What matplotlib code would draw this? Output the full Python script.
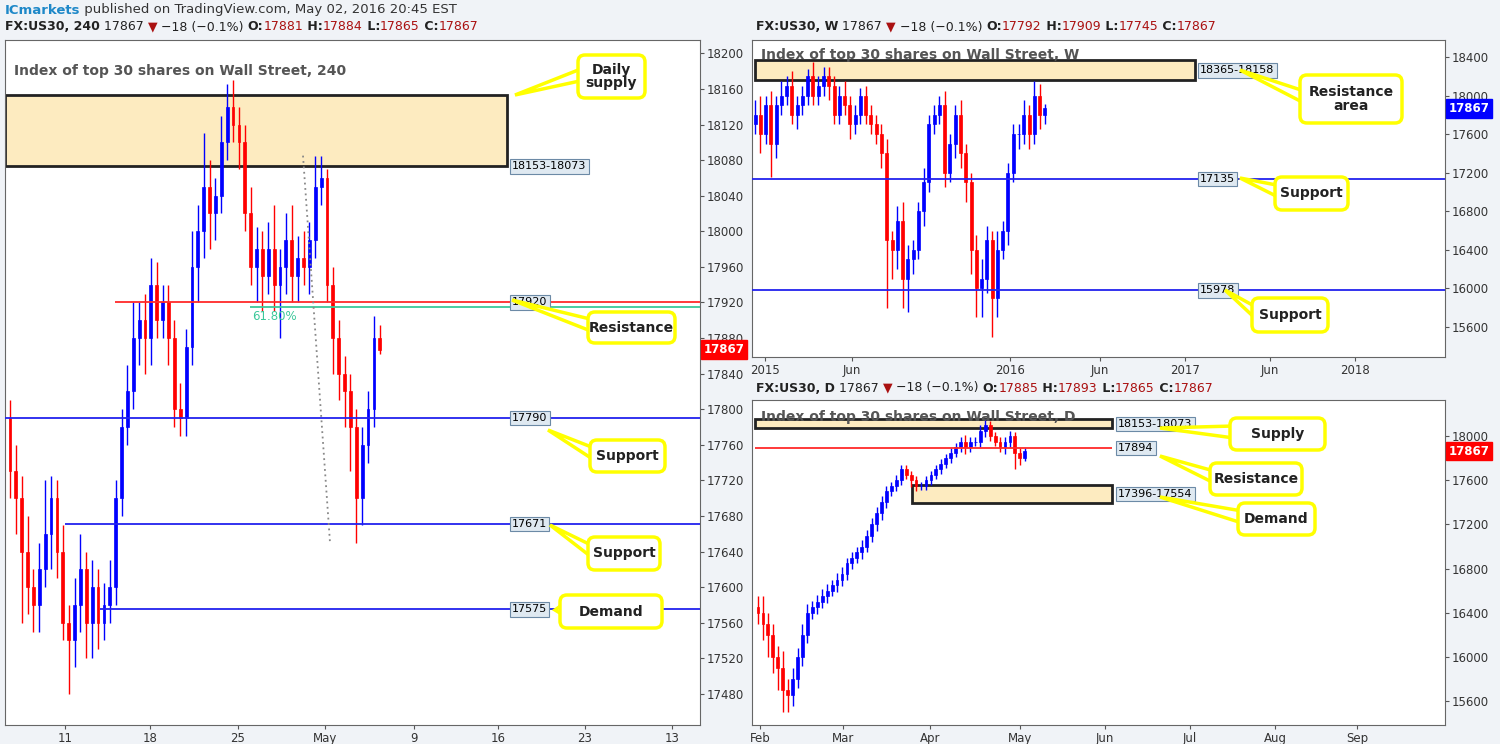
import matplotlib
matplotlib.use("Agg")
import matplotlib.pyplot as plt
from matplotlib.patches import FancyBboxPatch, Polygon, Rectangle

# ---------------- data ----------------
h4_close = [17730,17700,17640,17600,17580,17620,17660,17700,17640,17560,17540,17580,17620,17560,17600,17560,
            17580,17600,17700,17780,17820,17880,17900,17880,17940,17900,17920,17880,17800,17790,17870,17960,
            18000,18050,18020,18040,18100,18140,18120,18100,18020,17960,17980,17950,17980,17940,17960,17990,
            17950,17970,17960,17990,18050,18060,17940,17880,17840,17820,17780,17700,17760,17800,17880,17867]
h4_first_open = 17790
h4_wick_up = [20,30,25,40,20,30,60,25,20,30,20,30,40,20,30,20,25,30,20,20,30,40,20,30,30,25,20,20,20,30,
              20,40,30,60,30,20,30,25,30,20,20,30,25,20,30,50,20,30,40,25,30,20,35,25,10,20,20,20,20,20,
              20,20,25,15]
h4_wick_dn = [30,40,80,30,30,30,20,40,30,20,60,30,30,40,40,30,20,20,20,20,20,20,30,40,30,20,20,30,20,20,
              20,20,40,30,40,30,20,20,20,30,20,20,40,40,20,30,60,30,30,30,20,30,20,20,20,40,30,40,50,50,
              30,20,20,5]

w_close = [17800,17600,17900,17500,17900,18000,18100,17800,17900,18000,18200,18000,18100,18200,18100,17800,
           18000,17900,17700,17800,18000,17800,17700,17600,17400,16500,16400,16700,16100,16300,16400,16800,
           17100,17700,17800,17900,17200,17500,17800,17400,17100,16400,16000,16100,16500,15900,16400,16600,
           17200,17600,17600,17800,17600,18000,17800,17867]
w_first_open = 17700
w_wick_up = [150,200,100,150,100,150,100,150,100,100,80,150,100,100,100,100,100,150,100,100,80,100,100,100,
             100,150,100,150,200,150,100,100,150,100,100,100,150,100,100,150,100,100,150,200,150,100,200,100,
             100,100,100,150,100,150,120,40]
w_wick_dn = [100,200,100,350,150,100,100,100,150,100,100,100,100,100,150,100,100,100,150,100,100,100,100,
             100,150,700,300,200,300,350,150,100,150,100,100,100,150,100,150,150,200,250,300,300,150,400,200,
             100,150,100,150,100,150,100,150,100]

d_close = [16400,16300,16200,16000,15900,15700,15650,15800,16000,16200,16400,16450,16500,16550,16600,16650,
           16700,16750,16850,16900,16950,17000,17100,17200,17300,17400,17500,17550,17600,17700,17650,17600,
           17550,17550,17600,17650,17700,17750,17800,17850,17900,17950,17900,17950,17950,18050,18100,18000,
           17950,17900,17950,18000,17850,17800,17867]
d_first_open = 16450
d_wick_up = [100,150,100,100,100,150,100,100,80,100,80,60,60,60,60,50,60,60,50,50,50,60,50,60,60,60,50,40,
             50,40,40,40,40,40,40,40,40,40,40,40,40,40,60,40,40,50,60,40,40,40,40,50,40,40,30]
d_wick_dn = [100,150,200,150,200,200,150,100,80,80,80,60,60,60,60,50,60,60,50,50,50,60,50,60,60,60,50,40,
             50,40,40,60,50,40,40,40,40,40,40,40,40,40,60,40,40,50,60,40,40,40,60,50,150,60,20]

h4_ticks = ["11", "18", "25", "May", "9", "16", "23", "13"]
w_ticks = ["2015", "Jun", "2016", "Jun", "2017", "Jun", "2018"]
d_ticks = ["Feb", "Mar", "Apr", "May", "Jun", "Jul", "Aug", "Sep"]

UP = "#0000ff"
DN = "#ff0000"
ZONE = "#fdebc0"
TAGFC = "#dfe9f1"
TAGEC = "#6c8aa6"

W, H = 1500, 744
fig = plt.figure(figsize=(W / 100, H / 100), dpi=100, facecolor="#f0f3f7")


def px_axes(x0, y0, x1, y1):
    return fig.add_axes([x0 / W, 1 - y1 / H, (x1 - x0) / W, (y1 - y0) / H])


def candles(ax, xs, first_open, closes, wu, wd, width):
    o = first_open
    for x, c, u, d in zip(xs, closes, wu, wd):
        col = UP if c >= o else DN
        hi = max(o, c) + u
        lo = min(o, c) - d
        ax.vlines(x, lo, hi, color=col, lw=1, zorder=3)
        ax.add_patch(Rectangle((x - width / 2, min(o, c)), width, max(abs(c - o), 3),
                               facecolor=col, edgecolor=col, lw=0.5, zorder=4))
        o = c


def style(ax, ylim, yticks, xlim):
    ax.set_facecolor("white")
    ax.set_xlim(*xlim)
    ax.set_ylim(*ylim)
    ax.yaxis.tick_right()
    ax.set_yticks(yticks)
    ax.tick_params(axis="both", labelsize=8.5, colors="#555555", length=3, pad=2)
    for lab in ax.get_yticklabels() + ax.get_xticklabels():
        lab.set_color("#333333")
    for s in ax.spines.values():
        s.set_color("#666666")


# ---------------- left 240 panel ----------------
axL = px_axes(5, 40, 700, 725)
xsL = [5 + 5.87 * i for i in range(len(h4_close))]
candles(axL, xsL, h4_first_open, h4_close, h4_wick_up, h4_wick_dn, 2.8)
style(axL, (17445, 18215), list(range(17480, 18201, 40)), (0, 695))
axL.set_xticks([60, 145, 233, 320, 409, 493, 580, 667])
axL.set_xticklabels(h4_ticks)
axL.add_patch(Rectangle((0, 18073), 502, 80, facecolor=ZONE, edgecolor="#222222", lw=2, zorder=2))
axL.hlines(17920, 110, 695, color="#ff2a2a", lw=1.3, zorder=5)
axL.hlines(17915, 245, 695, color="#3cc89a", lw=1.3, zorder=5)
axL.text(247, 17912, "61.80%", color="#3cc89a", fontsize=8.5, va="top", zorder=6)
axL.hlines(17790, 0, 695, color="#2222ee", lw=1.3, zorder=5)
axL.hlines(17671, 60, 695, color="#2222ee", lw=1.3, zorder=5)
axL.hlines(17575, 95, 695, color="#2222ee", lw=1.3, zorder=5)
axL.plot([298, 325], [18085, 17650], color="#888888", lw=1.3, ls=(0, (1, 2)), zorder=6)
for y, t in [(18073, "18153-18073"), (17920, "17920"), (17790, "17790"), (17671, "17671"), (17575, "17575")]:
    axL.text(507, y, t, fontsize=8, va="center", ha="left", zorder=7,
             bbox=dict(boxstyle="square,pad=0.2", fc=TAGFC, ec=TAGEC, lw=0.8))
axL.text(9, 18180, "Index of top 30 shares on Wall Street, 240", fontsize=10, color="#555555",
         fontweight="bold", va="center", zorder=7)

# ---------------- right top weekly ----------------
axW = px_axes(752, 40, 1445, 357)
xsW = [3 + 5.27 * i for i in range(len(w_close))]
candles(axW, xsW, w_first_open, w_close, w_wick_up, w_wick_dn, 3.0)
style(axW, (15288, 18576), list(range(15600, 18401, 400)), (0, 693))
axW.set_xticks([13, 100, 258, 348, 433, 518, 603])
axW.set_xticklabels(w_ticks)
axW.add_patch(Rectangle((3, 18158), 440, 207, facecolor=ZONE, edgecolor="#222222", lw=2, zorder=2))
axW.hlines(17135, 0, 693, color="#2222ee", lw=1.3, zorder=5)
axW.hlines(15978, 0, 693, color="#2222ee", lw=1.3, zorder=5)
for y, t in [(18261, "18365-18158"), (17135, "17135"), (15978, "15978")]:
    axW.text(448, y, t, fontsize=8, va="center", ha="left", zorder=7,
             bbox=dict(boxstyle="square,pad=0.2", fc=TAGFC, ec=TAGEC, lw=0.8))
axW.text(9, 18420, "Index of top 30 shares on Wall Street, W", fontsize=10, color="#555555",
         fontweight="bold", va="center", zorder=7)

# ---------------- right bottom daily ----------------
axD = px_axes(752, 400, 1445, 725)
xsD = [6 + 4.94 * i for i in range(len(d_close))]
candles(axD, xsD, d_first_open, d_close, d_wick_up, d_wick_dn, 2.8)
style(axD, (15380, 18330), list(range(15600, 18001, 400)), (0, 693))
axD.set_xticks([8, 91, 178, 268, 353, 438, 523, 605])
axD.set_xticklabels(d_ticks)
axD.add_patch(Rectangle((3, 18073), 357, 80, facecolor=ZONE, edgecolor="#222222", lw=2, zorder=2))
axD.add_patch(Rectangle((160, 17396), 200, 158, facecolor=ZONE, edgecolor="#222222", lw=2, zorder=2))
axD.hlines(17894, 3, 360, color="#ff2a2a", lw=1.3, zorder=5)
for y, t in [(18113, "18153-18073"), (17894, "17894"), (17475, "17396-17554")]:
    axD.text(366, y, t, fontsize=8, va="center", ha="left", zorder=7,
             bbox=dict(boxstyle="square,pad=0.2", fc=TAGFC, ec=TAGEC, lw=0.8))
axD.text(9, 18180, "Index of top 30 shares on Wall Street, D", fontsize=10, color="#555555",
         fontweight="bold", va="center", zorder=7)

for ax, bg in [(axL, "#ff0000"), (axW, "#0000ff"), (axD, "#ff0000")]:
    ax.text(1.005, 17867, "17867", transform=ax.get_yaxis_transform(), color="white", fontsize=8.5,
            fontweight="bold", va="center", ha="left", zorder=8, clip_on=False,
            bbox=dict(boxstyle="square,pad=0.25", fc=bg, ec=bg))

# ---------------- overlay (pixel coords) ----------------
ov = fig.add_axes([0, 0, 1, 1], zorder=20)
ov.set_xlim(0, W)
ov.set_ylim(H, 0)
ov.axis("off")


def callout(x0, y0, x1, y1, tip, text):
    by = (y0 + y1) / 2
    ov.add_patch(Polygon([(x0 + 4, by - 8), tip, (x0 + 4, by + 4)], closed=True, fc="white",
                         ec="#ffff00", lw=2.5, zorder=1))
    ov.add_patch(FancyBboxPatch((x0, y0), x1 - x0, y1 - y0, boxstyle="round,pad=0,rounding_size=7",
                                fc="white", ec="#ffff00", lw=2.5, zorder=2))
    ov.text((x0 + x1) / 2, by, text, ha="center", va="center", fontsize=10, fontweight="bold",
            color="#222222", zorder=3, linespacing=0.95)


callout(578, 55, 645, 98, (515, 95), "Daily\nsupply")
callout(588, 312, 675, 343, (512, 300), "Resistance")
callout(590, 440, 665, 472, (548, 430), "Support")
callout(588, 537, 660, 570, (550, 525), "Support")
callout(560, 595, 662, 628, (555, 610), "Demand")
callout(1300, 75, 1402, 123, (1240, 70), "Resistance\narea")
callout(1275, 177, 1348, 210, (1240, 178), "Support")
callout(1252, 298, 1328, 332, (1225, 290), "Support")
callout(1230, 418, 1325, 450, (1160, 428), "Supply")
callout(1210, 463, 1302, 495, (1160, 456), "Resistance")
callout(1238, 503, 1315, 535, (1160, 497), "Demand")

fig.canvas.draw()
R = fig.canvas.get_renderer()


def run_text(x, y, parts, size):
    cx = x
    for t, c, w in parts:
        tx = ov.text(cx, y, t, color=c, fontweight=w, fontsize=size, va="center", ha="left")
        cx += tx.get_window_extent(renderer=R).width


run_text(5, 10, [("ICmarkets", "#1e88c8", "bold"),
                 (" published on TradingView.com, May 02, 2016 20:45 EST", "#333333", "normal")], 9.5)


def header(x, y, tf, o, h, l):
    parts = [("FX:US30, %s" % tf, "#222222", "bold"), (" 17867 ", "#222222", "normal"),
             ("▼", "#aa1111", "normal"), (" −18 (−0.1%) ", "#222222", "normal"),
             ("O:", "#222222", "bold"), (o, "#aa1111", "normal"), (" H:", "#222222", "bold"),
             (h, "#aa1111", "normal"), (" L:", "#222222", "bold"), (l, "#aa1111", "normal"),
             (" C:", "#222222", "bold"), ("17867", "#aa1111", "normal")]
    run_text(x, y, parts, 9)


header(5, 27, "240", "17881", "17884", "17865")
header(756, 27, "W", "17792", "17909", "17745")
header(756, 388, "D", "17885", "17893", "17865")

fig.savefig("out.png", dpi=100, facecolor=fig.get_facecolor())
